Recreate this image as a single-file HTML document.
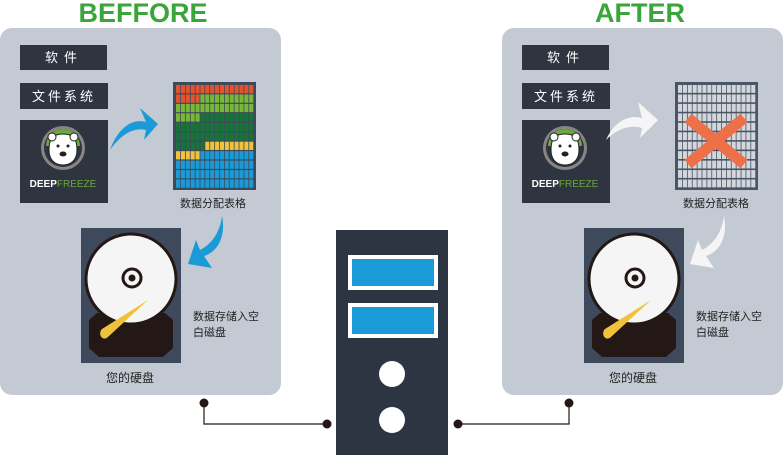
<!DOCTYPE html>
<html><head><meta charset="utf-8"><style>
html,body{margin:0;padding:0;background:#fff;width:783px;height:455px;overflow:hidden}
text{font-family:"Liberation Sans","Noto Sans CJK SC",sans-serif}
</style></head><body>
<svg width="783" height="455" viewBox="0 0 783 455" xmlns="http://www.w3.org/2000/svg">
<defs>
<g id="bear">
<circle cx="0" cy="0" r="22" fill="#8a8585"/>
<circle cx="0" cy="0" r="19" fill="#2e3440"/>
<path d="M-17,-2 A17,17 0 0 1 17,-2 L17,-2 Z" fill="#6aaa3a"/>
<path d="M-14,2 C-14,-10 -10,-14 0,-14 C10,-14 14,-10 14,2 C14,12 8,17 0,17 C-8,17 -14,12 -14,2Z" fill="#fff" stroke="#222" stroke-width="1"/>
<circle cx="-11" cy="-11" r="4" fill="#fff" stroke="#222" stroke-width="1"/>
<circle cx="11" cy="-11" r="4" fill="#fff" stroke="#222" stroke-width="1"/>
<circle cx="-5" cy="-2" r="1.5" fill="#222"/><circle cx="5" cy="-2" r="1.5" fill="#222"/>
<ellipse cx="0" cy="6" rx="3.5" ry="2.5" fill="#222"/>
</g>
<g id="hdd">
<rect x="0" y="0" width="100" height="135" fill="#3e4a5c"/>
<path d="M8,92 L16,85 L84,85 L92,92 L92,120 L82,129 L18,129 L8,120Z" fill="#231815"/>
<circle cx="50" cy="51" r="45" fill="#f5f5f5" stroke="#231815" stroke-width="3"/>
<circle cx="51" cy="50" r="9" fill="#f5f5f5" stroke="#231815" stroke-width="3"/>
<circle cx="51" cy="50" r="3.5" fill="#231815"/>
<path d="M67,72 L28,108 C22,115 16,106 21,101 Z" fill="#f0c23b"/>
</g>
</defs>

<text x="143" y="22" font-size="27" font-weight="bold" fill="#3aa53a" text-anchor="middle">BEFFORE</text>
<text x="640" y="22" font-size="27" font-weight="bold" fill="#3aa53a" text-anchor="middle">AFTER</text>

<rect x="0" y="28" width="281" height="367" rx="12" fill="#c4cad3"/>
<rect x="502" y="28" width="281" height="367" rx="12" fill="#c4cad3"/>

<!-- left -->
<rect x="20" y="45" width="87" height="25" fill="#2e3440"/>
<text x="64" y="62" font-size="13" fill="#fff" text-anchor="middle" letter-spacing="6">软件</text>
<rect x="20" y="83" width="88" height="26" fill="#2e3440"/>
<text x="64" y="101" font-size="13" fill="#fff" text-anchor="middle" letter-spacing="3">文件系统</text>
<rect x="20" y="120" width="88" height="83" fill="#2e3440"/>
<use href="#bear" x="63" y="148"/>
<text x="63" y="187" font-size="10" font-weight="bold" fill="#fff" text-anchor="middle">DEEP<tspan fill="#6aaa3a" font-weight="normal">FREEZE</tspan></text>

<path d="M110,150 C118,128 132,118 146,122 L140,108 L158,124 L144,140 L146,130 C132,127 120,136 110,150Z" fill="#1a9ad6"/>

<rect x="173" y="82" width="83" height="108" fill="#3e4a5c"/>
<g id="gridL"></g>
<text x="213" y="207" font-size="11" fill="#222" text-anchor="middle">数据分配表格</text>

<path d="M222,216 C226,236 218,252 204,256 L212,268 L188,264 L196,240 L200,250 C212,244 220,232 222,216Z" fill="#1a9ad6"/>

<use href="#hdd" x="81" y="228"/>
<text x="193" y="320" font-size="11" fill="#222">数据存储入空</text>
<text x="193" y="336" font-size="11" fill="#222">白磁盘</text>
<text x="130" y="382" font-size="12" fill="#222" text-anchor="middle">您的硬盘</text>

<!-- right -->
<rect x="522" y="45" width="87" height="25" fill="#2e3440"/>
<text x="566" y="62" font-size="13" fill="#fff" text-anchor="middle" letter-spacing="6">软件</text>
<rect x="522" y="83" width="88" height="26" fill="#2e3440"/>
<text x="566" y="101" font-size="13" fill="#fff" text-anchor="middle" letter-spacing="3">文件系统</text>
<rect x="522" y="120" width="88" height="83" fill="#2e3440"/>
<use href="#bear" x="565" y="148"/>
<text x="565" y="187" font-size="10" font-weight="bold" fill="#fff" text-anchor="middle">DEEP<tspan fill="#6aaa3a" font-weight="normal">FREEZE</tspan></text>

<path d="M606,140 C614,122 628,114 642,118 L638,102 L658,120 L640,138 L642,128 C628,124 616,130 606,140Z" fill="#f5f5f5"/>

<rect x="675" y="82" width="83" height="108" fill="#4a5566"/>
<g id="gridR"></g>
<path d="M688,118 L744,164 M744,118 L688,164" stroke="#ee7048" stroke-width="11"/>
<text x="716" y="207" font-size="11" fill="#222" text-anchor="middle">数据分配表格</text>

<path d="M724,216 C728,236 720,252 706,256 L714,268 L690,264 L698,240 L702,250 C714,244 722,232 724,216Z" fill="#f5f5f5"/>

<use href="#hdd" x="584" y="228"/>
<text x="696" y="320" font-size="11" fill="#222">数据存储入空</text>
<text x="696" y="336" font-size="11" fill="#222">白磁盘</text>
<text x="633" y="382" font-size="12" fill="#222" text-anchor="middle">您的硬盘</text>

<!-- connectors -->
<polyline points="204,403 204,424 327,424" fill="none" stroke="#231815" stroke-width="1.2"/>
<polyline points="458,424 569,424 569,403" fill="none" stroke="#231815" stroke-width="1.2"/>
<circle cx="204" cy="403" r="4.5" fill="#231815"/>
<circle cx="327" cy="424" r="4.5" fill="#231815"/>
<circle cx="458" cy="424" r="4.5" fill="#231815"/>
<circle cx="569" cy="403" r="4.5" fill="#231815"/>

<!-- server -->
<rect x="336" y="230" width="112" height="225" fill="#2e3542"/>
<rect x="348" y="255" width="90" height="35" fill="#fff"/>
<rect x="352" y="259" width="82" height="27" fill="#1a9ad6"/>
<rect x="348" y="303" width="90" height="35" fill="#fff"/>
<rect x="352" y="307" width="82" height="27" fill="#1a9ad6"/>
<circle cx="392" cy="374" r="13" fill="#fff"/>
<circle cx="392" cy="420" r="13" fill="#fff"/>
</svg>
<script>
(function(){
var ns="http://www.w3.org/2000/svg";
var R="#e4532f",LG="#79b837",DG="#17733a",Y="#f1c23b",B="#1a9ad6";
var rows=[[R,16],[R,5,LG,11],[LG,16],[LG,5,DG,11],[DG,16],[DG,16],[DG,6,Y,10],[Y,5,B,11],[B,16],[B,16],[B,16]];
var gl=document.getElementById("gridL"),gr=document.getElementById("gridR");
var x0=176,y0=85,cw=4.88,rh=9.45;
rows.forEach(function(r,i){var c=0;for(var k=0;k<r.length;k+=2){for(var j=0;j<r[k+1];j++){var e=document.createElementNS(ns,"rect");e.setAttribute("x",x0+c*cw);e.setAttribute("y",y0+i*rh);e.setAttribute("width",cw-0.8);e.setAttribute("height",rh-1.2);e.setAttribute("fill",r[k]);gl.appendChild(e);c++;}}});
for(var i=0;i<11;i++)for(var j=0;j<16;j++){var e=document.createElementNS(ns,"rect");e.setAttribute("x",678+j*cw);e.setAttribute("y",y0+i*rh);e.setAttribute("width",cw-0.8);e.setAttribute("height",rh-1.6);e.setAttribute("fill","#d3d6db");gr.appendChild(e);}
})();
</script>
</body></html>
